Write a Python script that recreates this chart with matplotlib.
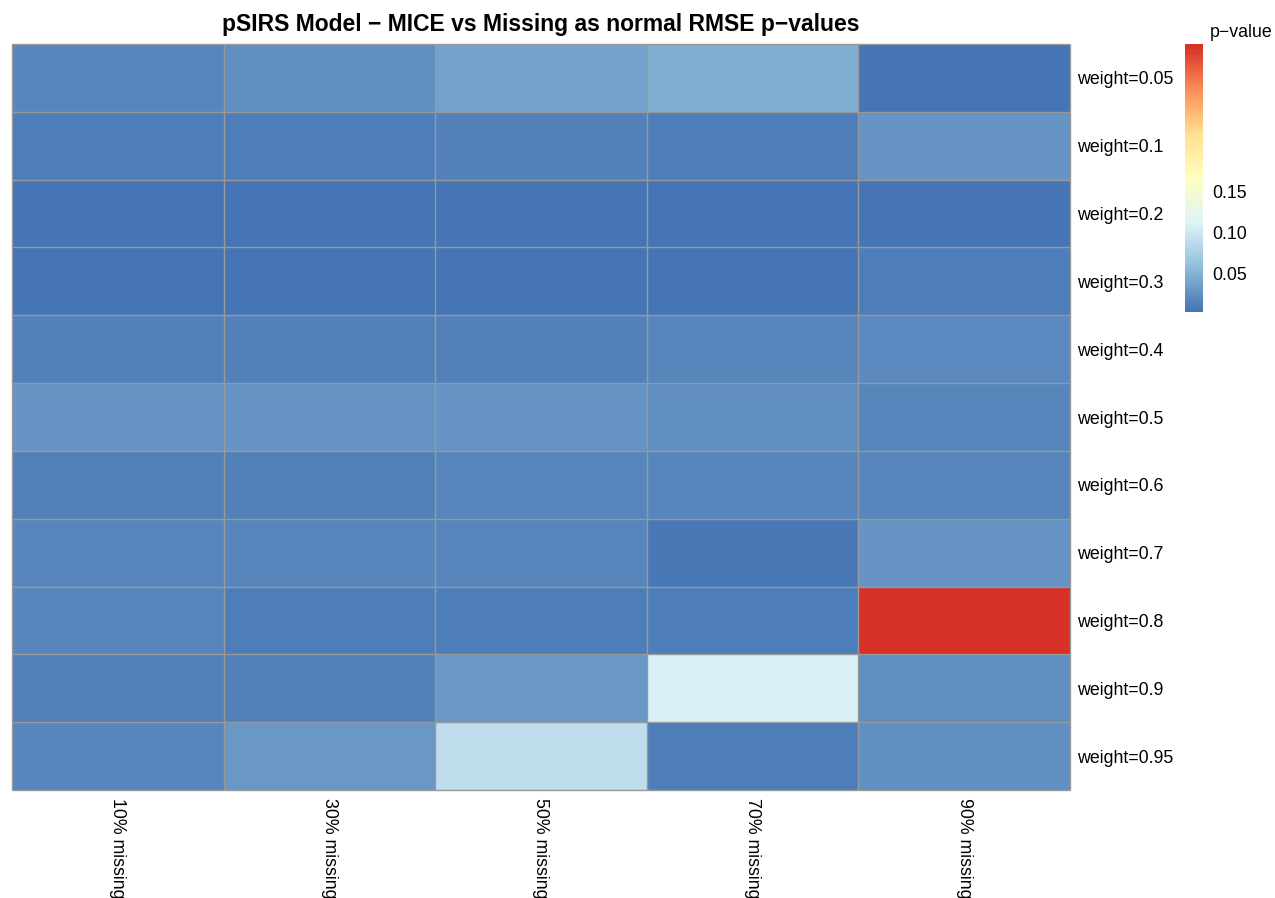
import numpy as np
import matplotlib
matplotlib.use("Agg")
import matplotlib.pyplot as plt
from matplotlib.colors import LinearSegmentedColormap, ListedColormap, BoundaryNorm

plt.rcParams["font.family"] = ["Liberation Sans", "DejaVu Sans"]

# Data: RMSE p-values, MICE vs missing-as-normal
columns = ["10% missing", "30% missing", "50% missing", "70% missing", "90% missing"]
rows = ["weight=0.05", "weight=0.1", "weight=0.2", "weight=0.3", "weight=0.4",
        "weight=0.5", "weight=0.6", "weight=0.7", "weight=0.8", "weight=0.9",
        "weight=0.95"]

w005 = [0.017, 0.024, 0.037, 0.049, 0.004]
w010 = [0.011, 0.012, 0.016, 0.011, 0.029]
w020 = [0.004, 0.004, 0.004, 0.004, 0.006]
w030 = [0.006, 0.006, 0.006, 0.005, 0.011]
w040 = [0.016, 0.016, 0.016, 0.020, 0.022]
w050 = [0.029, 0.027, 0.027, 0.026, 0.018]
w060 = [0.016, 0.016, 0.020, 0.020, 0.019]
w070 = [0.017, 0.017, 0.017, 0.010, 0.029]
w080 = [0.017, 0.013, 0.011, 0.011, 0.328]
w090 = [0.016, 0.016, 0.033, 0.108, 0.026]
w095 = [0.019, 0.033, 0.089, 0.013, 0.024]

values = np.array([w005, w010, w020, w030, w040, w050, w060, w070,
                   w080, w090, w095])

cbar_ticks = [0.05, 0.10, 0.15]

# pheatmap-style palette: reversed RdYlBu (7) interpolated to 100 steps
base = ["#4575B4", "#91BFDB", "#E0F3F8", "#FFFFBF", "#FEE090", "#FC8D59", "#D73027"]
ramp = LinearSegmentedColormap.from_list("ramp", base)
cmap = ListedColormap(ramp(np.linspace(0, 1, 100)))
breaks = np.linspace(values.min(), values.max(), 101)
norm = BoundaryNorm(breaks, cmap.N)

W, H = 1275, 898
fig = plt.figure(figsize=(W / 100, H / 100), dpi=100)

left, right, top, bottom = 12, 1070, 44, 790
ax = fig.add_axes([left / W, 1 - bottom / H, (right - left) / W, (bottom - top) / H])
nr, nc = values.shape
ax.pcolormesh(np.arange(nc + 1), np.arange(nr + 1), values, cmap=cmap, norm=norm)
# cell borders
ax.hlines(np.arange(nr + 1), 0, nc, colors="#999999", linewidth=1.0, clip_on=False)
ax.vlines(np.arange(nc + 1), 0, nr, colors="#999999", linewidth=1.0, clip_on=False)
ax.set_xlim(0, nc)
ax.set_ylim(nr, 0)
for s in ax.spines.values():
    s.set_visible(False)

ax.set_yticks(np.arange(nr) + 0.5)
ax.set_yticklabels(rows, fontsize=12.8)
ax.yaxis.tick_right()
ax.tick_params(axis="y", length=0, pad=5)

ax.set_xticks(np.arange(nc) + 0.5)
ax.set_xticklabels(columns, fontsize=12.8, rotation=-90, ha="center", va="top")
ax.tick_params(axis="x", length=0, pad=6)

ax.set_title("pSIRS Model \u2212 MICE vs Missing as normal RMSE p\u2212values",
             fontsize=16.5, fontweight="bold", pad=9)

# Legend colour bar
cax = fig.add_axes([1185 / W, 1 - 312 / H, 18 / W, (312 - 44) / H])
cb = fig.colorbar(matplotlib.cm.ScalarMappable(norm=norm, cmap=cmap), cax=cax,
                  ticks=cbar_ticks)
cb.outline.set_visible(False)
cb.ax.minorticks_off()
cb.ax.set_yticklabels([f"{t:.2f}" for t in cbar_ticks], fontsize=12.8)
cb.ax.tick_params(which="both", length=0, pad=7)
cax.text(25 / 18, 1.01, "p\u2212value", transform=cax.transAxes, fontsize=12.8,
         ha="left", va="bottom")

fig.savefig("out.png", dpi=100)
